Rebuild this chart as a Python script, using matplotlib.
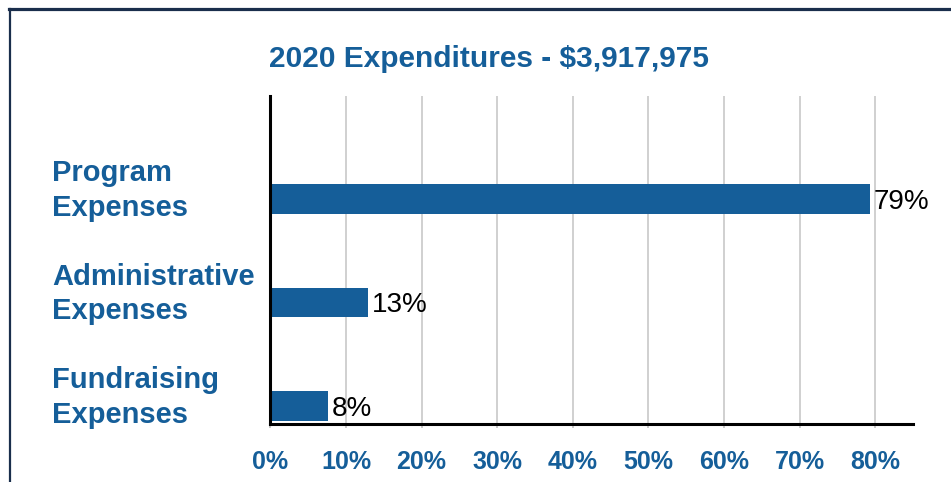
import matplotlib
matplotlib.use('Agg')
import matplotlib.pyplot as plt
import matplotlib.transforms as mtransforms
from matplotlib.lines import Line2D

title = '2020 Expenditures - $3,917,975'
categories = ['Fundraising\nExpenses', 'Administrative\nExpenses', 'Program\nExpenses']
values = [7.6, 12.9, 79.3]
value_labels = ['8%', '13%', '79%']
xticks = [0, 10, 20, 30, 40, 50, 60, 70, 80]
xtick_labels = ['0%', '10%', '20%', '30%', '40%', '50%', '60%', '70%', '80%']

blue = '#155E99'
navy = '#1A2E4C'

plt.rcParams['font.family'] = ['Liberation Sans', 'DejaVu Sans']

W, H = 951, 482
fig = plt.figure(figsize=(W / 100, H / 100), dpi=100)
ax = fig.add_axes([270.4 / W, 1 - 424 / H, (913 - 270.4) / W, (424 - 96) / H])

ypos = list(range(len(categories)))
ax.barh(ypos, values, height=0.285, color=blue, zorder=3)

ax.set_xlim(0, 85)
ax.set_ylim(-0.174, 2.995)
ax.set_xticks(xticks)
ax.set_xticklabels(xtick_labels, fontsize=18, fontweight='bold', color=blue)
ax.set_yticks([])
ax.tick_params(axis='x', length=3, width=1.2, color='#C0C0C0', pad=16)
ax.grid(axis='x', color='#C8C8C8', linewidth=1.2, zorder=0)

for s in ['top', 'right']:
    ax.spines[s].set_visible(False)
for s in ['left', 'bottom']:
    ax.spines[s].set_linewidth(2.2)
    ax.spines[s].set_color('black')
    ax.spines[s].set_zorder(4)

# value labels right of the bars
for y, v, lab in zip(ypos, values, value_labels):
    off = mtransforms.ScaledTranslation(4 / 100, -10 / 100, fig.dpi_scale_trans)
    ax.text(v, y, lab, fontsize=20, color='black', ha='left', va='baseline',
            transform=ax.transData + off)

# category labels to the left
blend = mtransforms.blended_transform_factory(fig.transFigure, ax.transData)
for y, cat in zip(ypos, categories):
    off = mtransforms.ScaledTranslation(0, -17 / 100, fig.dpi_scale_trans)
    ax.text(52 / W, y, cat, fontsize=21, fontweight='bold', color=blue,
            ha='left', va='baseline', linespacing=1.3,
            transform=blend + off, clip_on=False)

fig.text(489 / W, 1 - 67 / H, title, fontsize=21.5, fontweight='bold', color=blue,
         ha='center', va='baseline')

# outer frame (top and left edges visible in the crop)
fig.add_artist(Line2D([9 / W, 1], [1 - 8.5 / H, 1 - 8.5 / H], transform=fig.transFigure,
                      color=navy, linewidth=2.3))
fig.add_artist(Line2D([9.5 / W, 9.5 / W], [0, 1 - 8.5 / H], transform=fig.transFigure,
                      color=navy, linewidth=1.6))

fig.savefig('out.png', dpi=100)
